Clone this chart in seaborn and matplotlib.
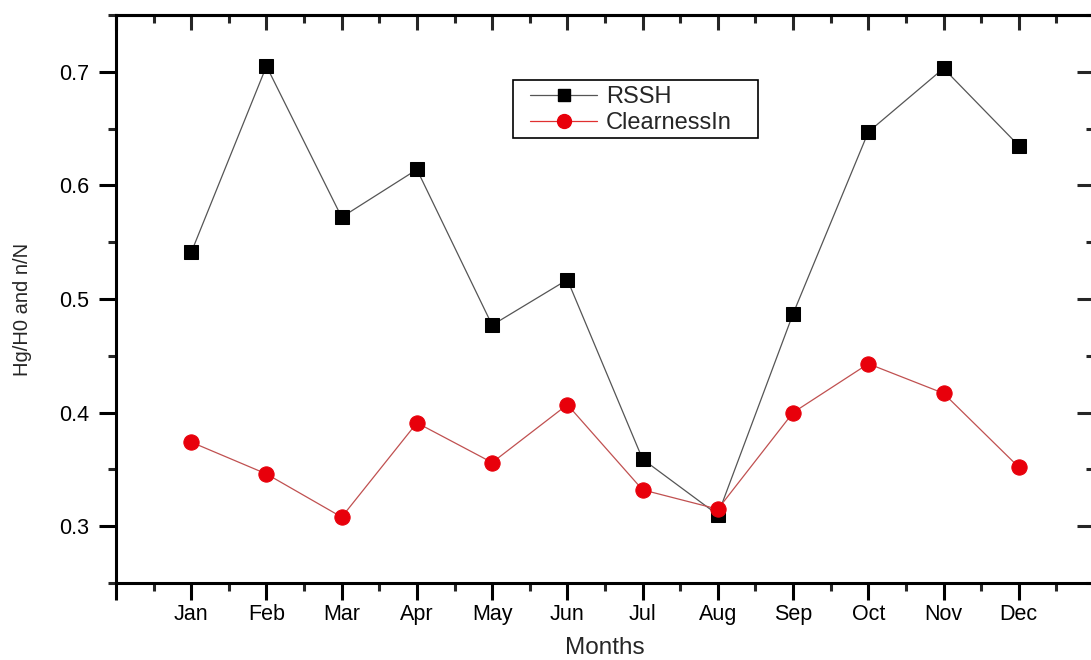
import matplotlib
matplotlib.use("Agg")
import matplotlib.pyplot as plt
from matplotlib.ticker import MultipleLocator, NullFormatter
from matplotlib.lines import Line2D
from matplotlib.patches import Rectangle
import seaborn as sns
import pandas as pd

months = ['Jan', 'Feb', 'Mar', 'Apr', 'May', 'Jun',
          'Jul', 'Aug', 'Sep', 'Oct', 'Nov', 'Dec']
month_num = list(range(1, 13))
rssh = [0.541, 0.705, 0.572, 0.614, 0.477, 0.517,
        0.359, 0.310, 0.487, 0.647, 0.703, 0.635]
clearness = [0.374, 0.346, 0.308, 0.391, 0.356, 0.407,
             0.332, 0.315, 0.400, 0.443, 0.417, 0.352]
y_ticks = [0.3, 0.4, 0.5, 0.6, 0.7]

sns.set_style('ticks')
plt.rcParams['font.family'] = ['Liberation Sans', 'DejaVu Sans']

df = pd.DataFrame({'month': month_num, 'RSSH': rssh, 'ClearnessIn': clearness})

W, H = 1091, 660
fig = plt.figure(figsize=(W / 100, H / 100), dpi=100)
ax = fig.add_axes([116 / W, 1 - 583 / H, 978 / W, 568 / H])


def px(x, y):
    # figure pixel (from top-left) -> axes fraction
    return (x - 116) / 978, (583 - y) / 568


sns.lineplot(data=df, x='month', y='RSSH', ax=ax, color='#555555', lw=0.9,
             marker='s', markersize=10, markerfacecolor='black',
             markeredgecolor='black', sort=False)
sns.lineplot(data=df, x='month', y='ClearnessIn', ax=ax, color='#c05050', lw=0.9,
             marker='o', markersize=11, markerfacecolor='#e8000b',
             markeredgecolor='#e8000b', sort=False)

ax.set_xlim(0, 13)
ax.set_ylim(0.25, 0.75)
ax.set_xticks(range(0, 14))
ax.set_xticklabels([''] + months + [''])
ax.xaxis.set_minor_locator(MultipleLocator(0.5))
ax.set_yticks(y_ticks)
ax.set_yticklabels([f'{v:.1f}' for v in y_ticks])
ax.yaxis.set_minor_locator(MultipleLocator(0.05))

ax.tick_params(axis='both', which='major', direction='out', length=12, width=2.2,
               labelsize=15.5, pad=3, top=False, right=False, colors='black')
ax.tick_params(axis='y', which='major', pad=7)
ax.tick_params(axis='both', which='minor', direction='out', length=6, width=2.2,
               top=False, right=False)
for s in ax.spines.values():
    s.set_visible(True)
    s.set_linewidth(2.2)
    s.set_color('black')

# inward ticks on top and right, as in Origin
top = ax.secondary_xaxis('top')
top.set_xticks(range(0, 14))
top.xaxis.set_minor_locator(MultipleLocator(0.5))
top.xaxis.set_major_formatter(NullFormatter())
top.tick_params(which='major', direction='in', length=11, width=2.2)
top.tick_params(which='minor', direction='in', length=6, width=2.2)
top.spines['top'].set_linewidth(2.2)

right = ax.secondary_yaxis('right')
right.set_yticks(y_ticks)
right.yaxis.set_minor_locator(MultipleLocator(0.05))
right.yaxis.set_major_formatter(NullFormatter())
right.tick_params(which='major', direction='in', length=12, width=2.2)
right.tick_params(which='minor', direction='in', length=6, width=2.2)
right.spines['right'].set_linewidth(2.2)

ax.set_xlabel('Months', fontsize=17.5)
ax.xaxis.set_label_coords(*px(605, 654))
ax.xaxis.label.set_va('baseline')
ax.set_ylabel('Hg/H0 and n/N', fontsize=14.5)
ax.yaxis.set_label_coords(*px(32, 309))

# legend frame drawn as its own box, entries placed inside
x0, y0 = px(513, 138)
x1, y1 = px(758, 80)
ax.add_patch(Rectangle((x0, y0), x1 - x0, y1 - y0, transform=ax.transAxes,
                       fill=True, facecolor='white', edgecolor='black',
                       lw=1.2, zorder=5))
handles = [
    Line2D([], [], color='#555555', lw=0.9, marker='s', markersize=8,
           markerfacecolor='black', markeredgecolor='black'),
    Line2D([], [], color='#e03030', lw=0.9, marker='o', markersize=10,
           markerfacecolor='#e8000b', markeredgecolor='#e8000b'),
]
leg = ax.legend(handles, ['RSSH', 'ClearnessIn'], loc='upper left',
                bbox_to_anchor=px(530, 86), fontsize=17, frameon=False,
                handlelength=2.84, borderpad=0, labelspacing=0.17,
                handletextpad=0.38, borderaxespad=0)
leg.set_zorder(6)

fig.savefig('out.png', dpi=100)
